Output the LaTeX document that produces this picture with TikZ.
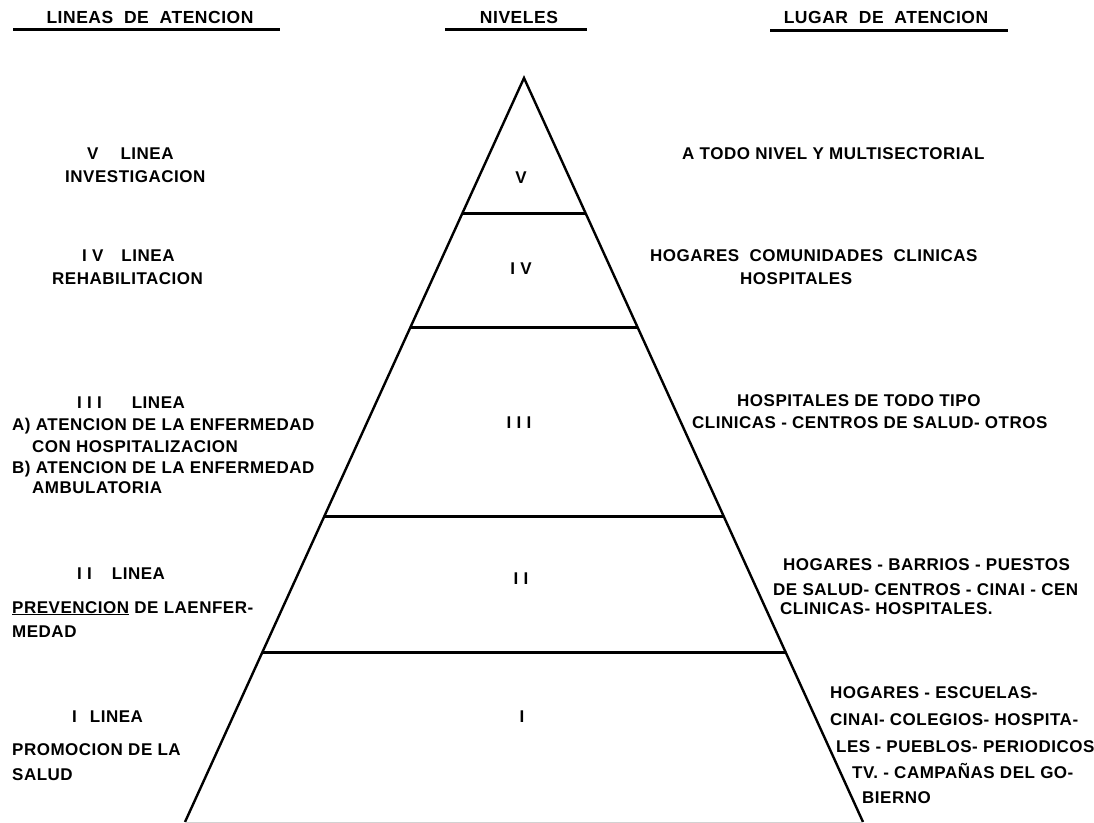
\documentclass[tikz,border=0pt]{standalone}
\usepackage{fontspec}
\setmainfont{Liberation Sans}[LetterSpace=3]
\usetikzlibrary{calc,positioning}
\tikzset
{
    headtext/.style  = {font=\fontsize{17.5}{20}\selectfont\bfseries, inner sep=0pt, text height=12pt, text depth=0pt},
    linetext/.style  = {font=\fontsize{17}{20}\selectfont\bfseries, anchor=west, inner sep=0pt, text height=12pt, text depth=0pt},
    leveltext/.style = {font=\fontsize{17}{20}\selectfont\bfseries, inner sep=0pt, text height=12pt, text depth=0pt},
    headrule/.style  = {line width=3pt},
    pyramid/.style   = {line width=2.4pt, line join=miter},
    divider/.style   = {line width=3pt}
}

\begin{document}
\begin{tikzpicture}[x=1pt, y=-1pt]
    \useasboundingbox (0,0) rectangle (1094,822);

    % headings
    \node [headtext] (hlineas)  at (150,17) {LINEAS\ \ DE\ \ ATENCION};
    \node [headtext] (hniveles) at (519,17) {NIVELES};
    \node [headtext] (hlugar)   at (886,17) {LUGAR\ \ DE\ \ ATENCION};
    \draw [headrule] (13,29.5) -- (280,29.5);
    \draw [headrule] (445,29.5) -- (587,29.5);
    \draw [headrule] (770,30) -- (1008,30);

    % pyramid
    \coordinate (apex)  at (524,78);
    \coordinate (baseL) at (185,822);
    \coordinate (baseR) at (863,822);
    \draw [pyramid] (baseL) -- (apex) -- (baseR);
    \draw [gray!35, line width=1pt] (baseL) -- (baseR);
    \foreach \t in {0.1815,0.3347,0.5887,0.7715}
        \draw [divider] ($(apex)!\t!(baseL)$) -- ($(apex)!\t!(baseR)$);

    % levels
    \node [leveltext] (lvV)   at (521,177) {V};
    \node [leveltext] (lvIV)  at (521,268) {I V};
    \node [leveltext] (lvIII) at (519,422) {I I I};
    \node [leveltext] (lvII)  at (521,578) {I I};
    \node [leveltext] (lvI)   at (522,716) {I};

    % lineas de atencion
    \foreach \x/\y/\txt [count=\i] in
    {
        87/153/{V\hskip 22pt LINEA},
        65/176/{INVESTIGACION},
        82/255/{I V\hskip 18pt LINEA},
        52/278/{REHABILITACION},
        77/402/{I I I\hskip 30pt LINEA},
        12/424/{A) ATENCION DE LA ENFERMEDAD},
        32/446/{CON HOSPITALIZACION},
        12/467/{B) ATENCION DE LA ENFERMEDAD},
        32/487/{AMBULATORIA},
        77/573/{I I\hskip 20pt LINEA},
        12/607/{\underline{PREVENCION} DE LAENFER-},
        12/631/{MEDAD},
        72/716/{I\hskip 13pt LINEA},
        12/749/{PROMOCION DE LA},
        12/774/{SALUD}
    }
        \node [linetext] (linea\i) at (\x,\y) {\txt};

    % lugar de atencion
    \foreach \x/\y/\txt [count=\i] in
    {
        682/153/{A TODO NIVEL Y MULTISECTORIAL},
        650/255/{HOGARES\ \ COMUNIDADES\ \ CLINICAS},
        740/278/{HOSPITALES},
        737/400/{HOSPITALES DE TODO TIPO},
        692/422/{CLINICAS - CENTROS DE SALUD- OTROS},
        783/564/{HOGARES - BARRIOS - PUESTOS},
        773/589/{DE SALUD- CENTROS - CINAI - CEN},
        780/608/{CLINICAS- HOSPITALES.},
        830/692/{HOGARES - ESCUELAS-},
        830/719/{CINAI- COLEGIOS- HOSPITA-},
        836/746/{LES - PUEBLOS- PERIODICOS},
        852/772/{TV. - CAMPAÑAS DEL GO-},
        862/797/{BIERNO}
    }
        \node [linetext] (lugar\i) at (\x,\y) {\txt};
\end{tikzpicture}
\end{document}
